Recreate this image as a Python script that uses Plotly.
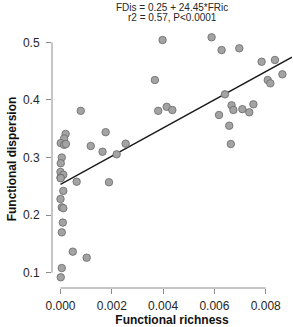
import plotly.graph_objects as go

# Functional richness (x) and functional dispersion (y)
fric = [0.00005, 0.00001, 0.0, 0.00011, 0.0, 0.00001, 0.00011, 0.0, 0.00005, 0.00011,
        0.00009, 0.00005, 0.00005, 0.00001,
        0.00020, 0.00014, 0.00001, 0.00014, 0.00021,
        0.00063, 0.00048, 0.00102, 0.00079, 0.00118, 0.00164, 0.00176, 0.00189, 0.00219,
        0.00254, 0.00368, 0.00398, 0.00381, 0.00414, 0.00436,
        0.00589, 0.00628, 0.00697, 0.00784, 0.00836, 0.00865, 0.00808, 0.00818, 0.00641,
        0.00667, 0.00674, 0.00709, 0.00736, 0.00752, 0.00618, 0.00658, 0.00664]
fdis = [0.300, 0.290, 0.275, 0.270, 0.265, 0.264, 0.242, 0.228, 0.2135, 0.212,
        0.187, 0.170, 0.108, 0.092,
        0.341, 0.333, 0.325, 0.322, 0.3235,
        0.258, 0.1365, 0.126, 0.381, 0.320, 0.310, 0.344, 0.257, 0.3055,
        0.324, 0.4345, 0.504, 0.381, 0.388, 0.3825,
        0.5087, 0.4866, 0.4896, 0.4663, 0.4693, 0.4444, 0.4345, 0.4288, 0.4097,
        0.3906, 0.3825, 0.384, 0.3785, 0.3924, 0.3738, 0.3552, 0.3234]

# Regression fit
intercept = 0.2535
slope = 24.45
eq_text = "FDis = 0.25 + 24.45*FRic"
stat_text = "r2 = 0.57, P<0.0001"

x_ticks = [0.000, 0.002, 0.004, 0.006, 0.008]
x_ticklabels = ["0.000", "0.002", "0.004", "0.006", "0.008"]
y_ticks = [0.1, 0.2, 0.3, 0.4, 0.5]
y_ticklabels = ["0.1", "0.2", "0.3", "0.4", "0.5"]

x_range = [-0.000331, 0.009025]
y_range = [0.0734, 0.5214]

line_x = [min(fric), x_range[1]]
line_y = [intercept + slope * v for v in line_x]

fig = go.Figure()
fig.add_trace(go.Scatter(x=line_x, y=line_y, mode="lines",
                         line=dict(color="#1a1a1a", width=1.4), hoverinfo="skip"))
fig.add_trace(go.Scatter(x=fric, y=fdis, mode="markers",
                         marker=dict(size=7.5, color="#a3a3a3",
                                     line=dict(color="#6a6a6a", width=0.8))))

axis_col = "#8c8c8c"
font_col = "#262626"
fig.update_layout(
    width=293, height=327,
    margin=dict(l=52, r=1, t=30, b=39),
    paper_bgcolor="white", plot_bgcolor="white",
    showlegend=False,
    font=dict(family="Liberation Sans, Arial, sans-serif", size=12, color=font_col),
    xaxis=dict(range=x_range, tickvals=x_ticks, ticktext=x_ticklabels,
               showgrid=False, zeroline=False, showline=False,
               ticks="outside", ticklen=5, tickwidth=1, tickcolor=axis_col,
               ticklabelstandoff=2,
               tickfont=dict(size=12, color=font_col),
               title=dict(text="<b>Functional richness</b>", standoff=5,
                          font=dict(size=12, color="#111"))),
    yaxis=dict(range=y_range, tickvals=y_ticks, ticktext=y_ticklabels,
               showgrid=False, zeroline=False, showline=False,
               ticks="outside", ticklen=5, tickwidth=1, tickcolor=axis_col,
               ticklabelstandoff=4,
               tickfont=dict(size=12, color=font_col),
               title=dict(text="<b>Functional dispersion</b>", standoff=3,
                          font=dict(size=12, color="#111"))),
    shapes=[
        dict(type="line", xref="paper", yref="y", x0=0, x1=0,
             y0=y_ticks[0], y1=y_ticks[-1], line=dict(color=axis_col, width=1)),
        dict(type="line", xref="x", yref="paper", x0=x_ticks[0], x1=x_ticks[-1],
             y0=0, y1=0, line=dict(color=axis_col, width=1)),
    ],
    annotations=[
        dict(text=eq_text, xref="paper", yref="paper", x=0.5, y=1 + 23 / 258,
             xanchor="center", yanchor="middle", showarrow=False,
             font=dict(size=10, color=font_col)),
        dict(text=stat_text, xref="paper", yref="paper", x=0.5, y=1 + 12 / 258,
             xanchor="center", yanchor="middle", showarrow=False,
             font=dict(size=10, color=font_col)),
    ],
)

fig.write_html("out.html")
